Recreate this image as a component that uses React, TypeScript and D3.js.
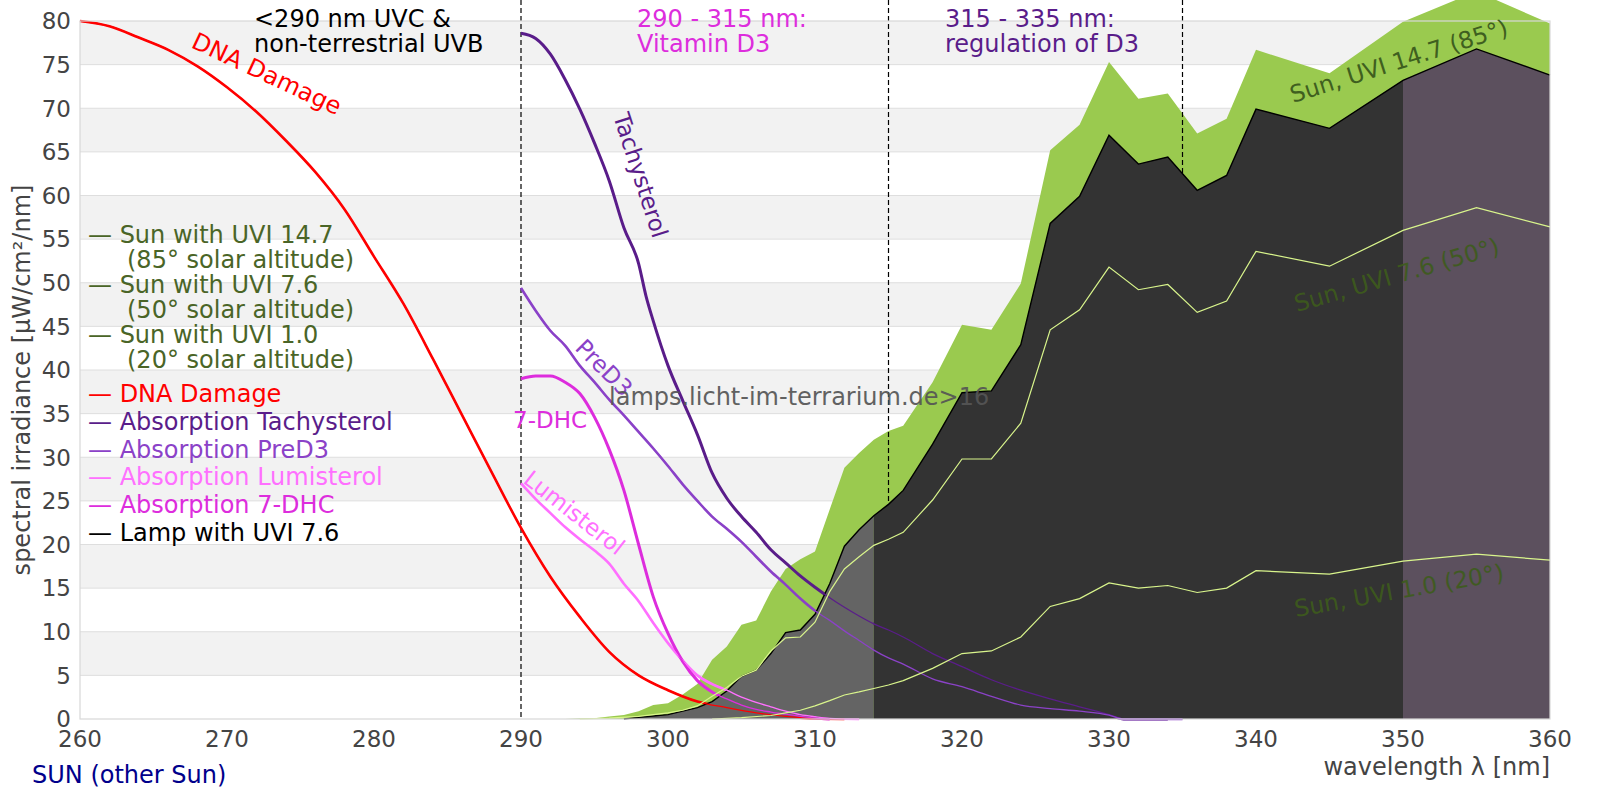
import React from 'react';
import * as d3 from 'd3';

// ---- data (wavelength nm, value µW/cm²/nm) ----
const dnaDamage: [number, number][] = [
  [260, 80], [262, 79.4], [264, 78.1], [266, 76.7], [268, 74.8], [270, 72.4], [272, 69.6],
  [274, 66.3], [276, 62.7], [278, 58.4], [280, 53.0], [282, 47.6], [284, 41.3], [286, 34.8],
  [288, 28.3], [290, 21.9], [292, 16.3], [294, 11.7], [296, 7.7], [298, 5.0], [300, 3.3],
  [302, 2.0], [304, 1.3], [306, 0.7], [308, 0.3], [310, 0.05], [312, 0],
];

const tachysterol: [number, number][] = [
  [290, 78.6], [291, 78.0], [292, 76.2], [293, 73.3], [294, 69.9], [295, 66.0], [296, 61.7],
  [297, 56.3], [298, 52.2], [298.5, 48.5], [299, 45.6], [300, 40.5], [301, 36.5], [302, 32.6],
  [303, 28.2], [304, 25.3], [305, 23.2], [306, 21.4], [307, 19.4], [308, 17.9], [309, 16.4],
  [310, 15.1], [311, 13.9], [312, 12.8], [313, 11.8], [314, 10.9], [315, 10.2], [316, 9.4],
  [318, 7.5], [320, 6.0], [322, 4.5], [324, 3.3], [326, 2.3], [328, 1.4], [330, 0.5],
  [331, 0], [334, 0],
];

const preD3: [number, number][] = [
  [290, 49.4], [291, 46.8], [292, 44.5], [293, 42.8], [294, 40.5], [295, 38.6], [296, 36.6],
  [297, 34.8], [298, 32.9], [299, 31.0], [300, 29.0], [301, 26.9], [302, 25.0], [303, 23.2],
  [304, 21.8], [305, 20.3], [306, 18.6], [307, 16.9], [308, 15.4], [309, 13.8], [310, 12.4],
  [311, 11.3], [312, 10.1], [313, 9.0], [314, 7.9], [315, 7.0], [316, 6.3], [318, 4.6],
  [320, 3.7], [322, 2.6], [324, 1.6], [326, 1.2], [328, 0.9], [330, 0.45], [331, 0], [335, 0],
];

const lumisterol: [number, number][] = [
  [290, 27.0], [291, 25.2], [292, 23.6], [293, 22.0], [294, 20.6], [295, 19.3], [296, 17.8],
  [297, 15.5], [298, 13.5], [299, 11.0], [300, 8.7], [301, 6.7], [302, 5.0], [303, 4.0],
  [304, 3.3], [305, 2.5], [306, 1.9], [307, 1.4], [308, 0.9], [309, 0.5], [310, 0.26],
  [311, 0.08], [313, 0],
];

const dhc7: [number, number][] = [
  [290, 39.0], [291, 39.3], [292, 39.3], [293, 38.6], [294, 37.3], [295, 34.6], [296, 30.9],
  [297, 26.2], [298, 20.0], [299, 14.0], [300, 9.8], [301, 6.6], [302, 4.4], [303, 3.1],
  [304, 2.3], [305, 1.6], [306, 1.1], [307, 0.8], [308, 0.55], [309, 0.3], [310, 0.1], [311, 0],
];

const sunUvi147: [number, number][] = [
  [293, 0], [294, 0.05], [295, 0.1], [296, 0.3], [297, 0.45], [298, 0.9], [299, 1.6],
  [300, 1.8], [301, 2.8], [302, 4.0], [303, 6.8], [304, 8.3], [305, 10.8], [306, 11.3],
  [307, 14.6], [308, 17.2], [309, 18.3], [310, 19.2], [311, 24.0], [312, 28.8], [313, 30.5],
  [314, 32.0], [315, 33.0], [316, 33.6], [318, 38.6], [320, 45.2], [322, 44.6], [324, 49.9],
  [326, 65.2], [328, 68.1], [330, 75.3], [332, 71.1], [334, 71.7], [336, 67.1], [338, 68.8],
  [340, 76.7], [345, 74.0], [350, 79.9], [355, 83.4], [360, 79.7],
];

const sunUvi76: [number, number][] = [
  [294, 0], [296, 0.1], [298, 0.3], [299, 0.5], [300, 0.7], [301, 1.0], [302, 1.5],
  [303, 2.6], [304, 3.6], [305, 4.9], [306, 5.6], [307, 7.8], [308, 9.3], [309, 9.4],
  [310, 11.1], [311, 14.6], [312, 17.2], [313, 18.6], [314, 19.9], [315, 20.6], [316, 21.4],
  [318, 25.1], [320, 29.8], [322, 29.8], [324, 33.9], [326, 44.6], [328, 46.9], [330, 51.8],
  [332, 49.2], [334, 49.8], [336, 46.6], [338, 47.9], [340, 53.6], [345, 51.9], [350, 56.0],
  [355, 58.6], [360, 56.4],
];

const sunUvi10: [number, number][] = [
  [303, 0], [305, 0.15], [307, 0.4], [308, 0.7], [309, 1.0], [310, 1.5], [311, 2.1],
  [312, 2.75], [313, 3.1], [314, 3.5], [315, 3.9], [316, 4.4], [318, 5.8], [320, 7.5],
  [322, 7.8], [324, 9.4], [326, 12.9], [328, 13.8], [330, 15.6], [332, 15.0], [334, 15.3],
  [336, 14.5], [338, 15.0], [340, 17.0], [345, 16.6], [350, 18.1], [355, 18.9], [360, 18.2],
];

const lampUvi76: [number, number][] = [
  [297, 0], [298, 0.2], [299, 0.35], [300, 0.5], [301, 0.9], [302, 1.3], [303, 2.0],
  [304, 3.2], [305, 4.9], [306, 5.6], [307, 7.5], [308, 9.9], [309, 10.2], [310, 12.0],
  [311, 15.5], [312, 19.8], [313, 21.7], [314, 23.3], [315, 24.6], [316, 26.2], [318, 31.5],
  [320, 37.4], [322, 37.6], [324, 42.9], [326, 56.8], [328, 59.9], [330, 66.9], [332, 63.6],
  [334, 64.4], [336, 60.6], [338, 62.3], [340, 69.9], [345, 67.7], [350, 73.2], [355, 76.8],
  [360, 73.8],
];

// lamp fill changes colour at these wavelengths
const lampBands: [number, number][] = [[290, 314], [314, 350], [350, 360]];
const lampBandColors = ['#646464', '#333333', '#5c505e'];

const regionBounds = [290, 315, 335];
const xTicks = d3.range(260, 361, 10);
const yTicks = d3.range(0, 81, 5);

const SUN_TXT = '#4a6527';
const sunLegend = [
  ['Sun with UVI 14.7', '(85° solar altitude)'],
  ['Sun with UVI 7.6', '(50° solar altitude)'],
  ['Sun with UVI 1.0', '(20° solar altitude)'],
];
const curveLegend = [
  { label: 'DNA Damage', color: '#ff0000' },
  { label: 'Absorption Tachysterol', color: '#5a1d8a' },
  { label: 'Absorption PreD3', color: '#8b42c8' },
  { label: 'Absorption Lumisterol', color: '#ff70ff' },
  { label: 'Absorption 7-DHC', color: '#dd2ddd' },
  { label: 'Lamp with UVI 7.6', color: '#000000' },
];

const FONT = 'DejaVu Sans, Verdana, sans-serif';

export default function App() {
  const width = 1600;
  const height = 800;

  const x = d3.scaleLinear().domain([260, 360]).range([80, 1550]);
  const y = d3.scaleLinear().domain([0, 80]).range([719, 21]);

  const line = d3.line<[number, number]>()
    .x(d => x(d[0]))
    .y(d => y(d[1]));
  const smooth = d3.line<[number, number]>()
    .x(d => x(d[0]))
    .y(d => y(d[1]))
    .curve(d3.curveMonotoneX);
  const area = d3.area<[number, number]>()
    .x(d => x(d[0]))
    .y0(y(0))
    .y1(d => y(d[1]));

  const curves = [
    { data: dnaDamage, color: '#ff0000', w: 2.6 },
    { data: tachysterol, color: '#5a1d8a', w: 3 },
    { data: preD3, color: '#8b42c8', w: 2.6 },
    { data: lumisterol, color: '#ff70ff', w: 2.6 },
    { data: dhc7, color: '#dd2ddd', w: 3 },
  ];

  const [x0, x1] = x.range();
  const [yBottom, yTop] = y.range();

  return (
    <div style={{ position: 'absolute', left: 0, top: 0 }}>
      <svg width={width} height={height} fontFamily={FONT} style={{ display: 'block', background: '#fff' }}>
        <defs>
          {lampBands.map((b, i) => (
            <clipPath id={`lamp-band-${i}`} key={i}>
              <rect x={x(b[0])} y={0} width={x(b[1]) - x(b[0])} height={height} />
            </clipPath>
          ))}
        </defs>

        {/* alternating bands + grid */}
        {yTicks.slice(1).filter((_, i) => i % 2 === 0).map(v => (
          <rect key={`band-${v}`} x={x0} y={y(v + 5)} width={x1 - x0} height={y(v) - y(v + 5)} fill="#f2f2f2" />
        ))}
        {yTicks.slice(1, -1).map(v => (
          <line key={`grid-${v}`} x1={x0} x2={x1} y1={y(v)} y2={y(v)} stroke="#dedede" strokeWidth={1} />
        ))}

        {/* sun UVI 14.7 */}
        <path d={area(sunUvi147) || ''} fill="#9aca4f" />

        {/* region boundaries */}
        {regionBounds.map(v => (
          <line key={`rb-${v}`} x1={x(v)} x2={x(v)} y1={0} y2={yBottom} stroke="#000" strokeWidth={1.2} strokeDasharray="5,3" />
        ))}

        {/* absorption & DNA curves, thick */}
        {curves.map((c, i) => (
          <path key={`thick-${i}`} d={smooth(c.data) || ''} fill="none" stroke={c.color} strokeWidth={c.w} strokeLinejoin="round" />
        ))}

        {/* lamp */}
        {lampBands.map((b, i) => (
          <path key={`lamp-${i}`} d={area(lampUvi76) || ''} fill={lampBandColors[i]} clipPath={`url(#lamp-band-${i})`} />
        ))}
        <path d={line(lampUvi76) || ''} fill="none" stroke="#000" strokeWidth={1.4} />

        {/* thin continuation over the lamp */}
        {curves.map((c, i) => (
          <path key={`thin-${i}`} d={smooth(c.data) || ''} fill="none" stroke={c.color} strokeWidth={1.3} />
        ))}

        {/* sun UVI 7.6 and 1.0 */}
        <path d={line(sunUvi76) || ''} fill="none" stroke="#d9f58c" strokeWidth={1.2} />
        <path d={line(sunUvi10) || ''} fill="none" stroke="#d9f58c" strokeWidth={1.2} />

        {/* frame */}
        <rect x={x0} y={yTop} width={x1 - x0} height={yBottom - yTop} fill="none" stroke="#d8d8d8" strokeWidth={1.2} />

        {/* axes labels */}
        {yTicks.map(v => (
          <text key={`yt-${v}`} x={71} y={y(v)} dy="0.36em" textAnchor="end" fontSize={23} fill="#444">{v}</text>
        ))}
        {xTicks.map(v => (
          <text key={`xt-${v}`} x={x(v)} y={747} textAnchor="middle" fontSize={23} fill="#444">{v}</text>
        ))}
        <text transform="translate(30,380) rotate(-90)" textAnchor="middle" fontSize={24} fill="#444">
          spectral irradiance [µW/cm²/nm]
        </text>
        <text x={x1} y={775} textAnchor="end" fontSize={24} fill="#444">wavelength λ [nm]</text>
        <text x={32} y={783} fontSize={24} fill="#00008b">SUN (other Sun)</text>

        {/* region notes */}
        <text x={254} y={27} fontSize={24} fill="#000">&lt;290 nm UVC &amp;</text>
        <text x={254} y={52} fontSize={24} fill="#000">non-terrestrial UVB</text>
        <text x={637} y={27} fontSize={24} fill="#dd2ddd">290 - 315 nm:</text>
        <text x={637} y={52} fontSize={24} fill="#dd2ddd">Vitamin D3</text>
        <text x={945} y={27} fontSize={24} fill="#5a1d8a">315 - 335 nm:</text>
        <text x={945} y={52} fontSize={24} fill="#5a1d8a">regulation of D3</text>

        {/* curve labels */}
        <text transform="translate(190,47) rotate(25)" fontSize={24} fill="#ff0000">DNA Damage</text>
        <text transform="translate(613,116) rotate(72)" fontSize={23} fill="#5a1d8a">Tachysterol</text>
        <text transform="translate(574,349) rotate(45)" fontSize={23} fill="#8b42c8">PreD3</text>
        <text transform="translate(522,482) rotate(38)" fontSize={23} fill="#ff70ff">Lumisterol</text>
        <text x={513} y={428} fontSize={23} fill="#dd2ddd">7-DHC</text>
        <text x={609} y={405} fontSize={24} fill="#555" opacity={0.92}>lamps.licht-im-terrarium.de&gt;16</text>

        <text transform="translate(1293,103) rotate(-17.5)" fontSize={23.5} fill="#3f5f1f">Sun, UVI 14.7 (85°)</text>
        <text transform="translate(1297,312) rotate(-16)" fontSize={23.5} fill="#3e5c1c" opacity={0.9}>Sun, UVI 7.6 (50°)</text>
        <text transform="translate(1296,617) rotate(-10)" fontSize={23.5} fill="#3e5c1c" opacity={0.9}>Sun, UVI 1.0 (20°)</text>

        {/* legend */}
        {sunLegend.map((lines, i) => (
          <g key={`sl-${i}`} fontSize={24} fill={SUN_TXT}>
            <text x={88} y={243 + i * 50}>{`— ${lines[0]}`}</text>
            <text x={127} y={268 + i * 50}>{lines[1]}</text>
          </g>
        ))}
        {curveLegend.map((item, i) => (
          <text key={`cl-${i}`} x={88} y={402 + i * 27.8} fontSize={24} fill={item.color}>
            {`— ${item.label}`}
          </text>
        ))}
      </svg>
    </div>
  );
}
